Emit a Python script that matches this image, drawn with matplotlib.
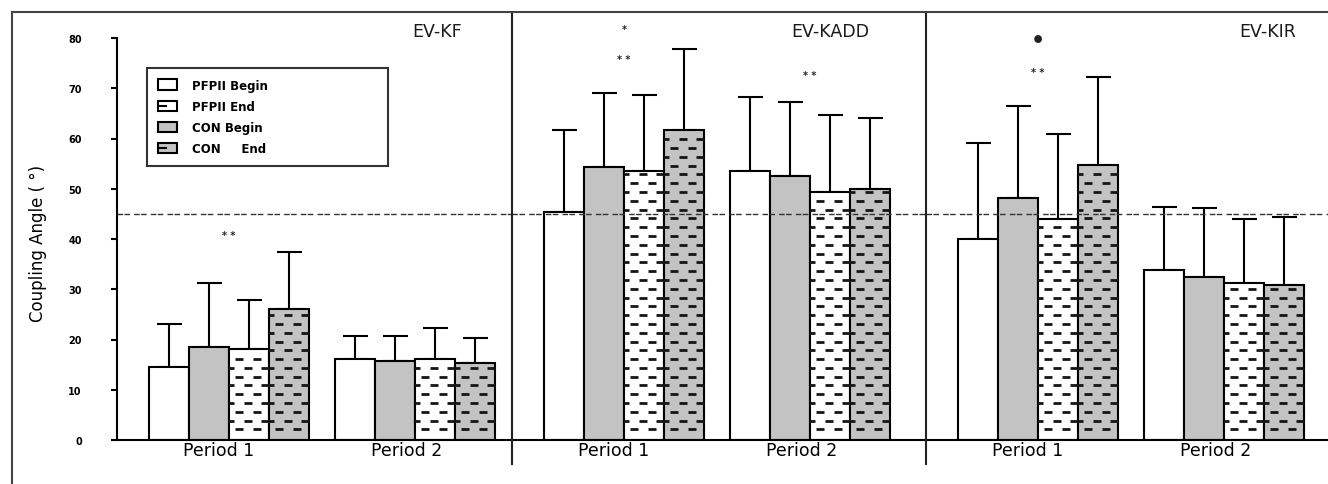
import numpy as np
import matplotlib
matplotlib.use("Agg")
import matplotlib.pyplot as plt
from matplotlib.patches import Rectangle, Patch
from matplotlib.lines import Line2D
from matplotlib.legend_handler import HandlerPatch

plt.rcParams['font.family'] = ['DejaVu Sans']

# ---------------- data ----------------
panels = ["EV-KF", "EV-KADD", "EV-KIR"]
periods = ["Period 1", "Period 2"]
bar_series = ["PFPII Begin", "CON Begin", "PFPII End", "CON End"]
legend_labels = ["PFPII Begin", "PFPII End", "CON Begin", "CON     End"]
y_ticks = [0, 10, 20, 30, 40, 50, 60, 70, 80]
reference_line = 45

# means per series: [Period 1, Period 2]
kf_pfp_begin = [14.5, 16.1]
kf_con_begin = [18.5, 15.7]
kf_pfp_end = [18.1, 16.1]
kf_con_end = [26.1, 15.3]
kf_pfp_begin_sd = [8.6, 4.6]
kf_con_begin_sd = [12.7, 5.0]
kf_pfp_end_sd = [9.8, 6.1]
kf_con_end_sd = [11.3, 5.0]

kadd_pfp_begin = [45.4, 53.5]
kadd_con_begin = [54.3, 52.6]
kadd_pfp_end = [53.5, 49.4]
kadd_con_end = [61.7, 50.0]
kadd_pfp_begin_sd = [16.3, 14.8]
kadd_con_begin_sd = [14.8, 14.7]
kadd_pfp_end_sd = [15.2, 15.3]
kadd_con_end_sd = [16.1, 14.1]

kir_pfp_begin = [40.0, 33.8]
kir_con_begin = [48.2, 32.5]
kir_pfp_end = [44.0, 31.2]
kir_con_end = [54.8, 30.8]
kir_pfp_begin_sd = [19.1, 12.6]
kir_con_begin_sd = [18.3, 13.6]
kir_pfp_end_sd = [16.8, 12.8]
kir_con_end_sd = [17.4, 13.6]

# significance marks: (panel, period index, y value, text)
marks_panel = [0, 1, 1, 1, 2, 2]
marks_period = [0, 0, 0, 1, 0, 0]
marks_y = [40.8, 81.8, 75.8, 72.6, 79.6, 73.2]
marks_text = ["* *", "*", "* *", "* *", "\u2022", "* *"]

means = [
    [kf_pfp_begin, kf_con_begin, kf_pfp_end, kf_con_end],
    [kadd_pfp_begin, kadd_con_begin, kadd_pfp_end, kadd_con_end],
    [kir_pfp_begin, kir_con_begin, kir_pfp_end, kir_con_end],
]
sds = [
    [kf_pfp_begin_sd, kf_con_begin_sd, kf_pfp_end_sd, kf_con_end_sd],
    [kadd_pfp_begin_sd, kadd_con_begin_sd, kadd_pfp_end_sd, kadd_con_end_sd],
    [kir_pfp_begin_sd, kir_con_begin_sd, kir_pfp_end_sd, kir_con_end_sd],
]

# ---------------- styling ----------------
W, H = 1328, 485
GRAY = "#c3c3c3"
face = ["white", GRAY, "white", GRAY]
hatched = [False, False, True, True]
LW = 1.5


def fx(px):
    return px / W


def fy(py):
    return 1 - py / H


fig = plt.figure(figsize=(W / 100, H / 100), dpi=100)

# panel extents in pixels (left, right)
panel_px = [(117, 512), (512, 926), (926, 1328)]
title_px = [437, 830, 1268]
y_top_px, y_bot_px = 39, 441
group_start = [0.8, 5.45]
label_pos = [2.55, 7.25]


def add_dashes(ax, left, width, height, clip):
    ys = np.arange(2.1, height - 0.4, 1.75)
    for i, yv in enumerate(ys):
        off = 0.25 if i % 2 == 0 else 0.03
        xs = np.arange(left + off, left + width + 0.2, 0.44)
        ln, = ax.plot(xs, np.full_like(xs, yv), ls='none', marker='_', ms=6,
                      mew=2.0, color='#151515', zorder=3)
        ln.set_clip_path(clip)


axes = []
for p, (l, r) in enumerate(panel_px):
    ax = fig.add_axes([fx(l), fy(y_bot_px), (r - l) / W, (y_bot_px - y_top_px) / H])
    axes.append(ax)
    ax.set_xlim(0, (r - l) / 40.0)
    ax.set_ylim(0, 80)
    ax.patch.set_alpha(0)
    for s in ['top', 'right']:
        ax.spines[s].set_visible(False)
    ax.spines['bottom'].set_linewidth(LW)
    if p == 0:
        ax.spines['left'].set_linewidth(LW)
        ax.set_yticks(y_ticks)
        ax.set_yticklabels([str(t) for t in y_ticks], fontsize=7, fontweight='bold')
        ax.tick_params(axis='y', direction='out', length=4.3, width=LW, pad=21)
    else:
        ax.spines['left'].set_visible(False)
        ax.set_yticks([])
    ax.set_xticks(label_pos)
    ax.set_xticklabels(periods, fontsize=12.5)
    ax.tick_params(axis='x', length=0, pad=1)

    for g in range(2):
        for s in range(4):
            x0 = group_start[g] + s
            m = means[p][s][g]
            sd = sds[p][s][g]
            bars = ax.bar(x0, m, width=1.0, align='edge', color=face[s],
                          edgecolor='black', linewidth=LW, zorder=2)
            ax.errorbar(x0 + 0.5, m, yerr=[[0], [sd]], fmt='none', ecolor='black',
                        elinewidth=LW, capsize=9, capthick=LW, zorder=1)
            if hatched[s]:
                add_dashes(ax, x0, 1.0, m, bars.patches[0])

    ax.axhline(reference_line, color='#333333', lw=1.0, dashes=(4, 1, 4, 3), zorder=4)

    fig.text(fx(title_px[p]), fy(32), panels[p], ha='center', va='center',
             fontsize=12.5, color='#1a1a1a')

for k in range(len(marks_text)):
    ax = axes[marks_panel[k]]
    xc = group_start[marks_period[k]] + 2.0
    bold = marks_text[k] == "\u2022"
    ax.text(xc, marks_y[k], marks_text[k], ha='center', va='center',
            fontsize=16 if bold else 7, fontweight='bold', clip_on=False, color='#222222')

# y label
fig.text(fx(38), fy(243), "Coupling Angle ( \u00b0)", rotation=90, ha='center', va='center',
         fontsize=12)

# separators and frame
for xs in [512, 926]:
    fig.add_artist(Line2D([fx(xs), fx(xs)], [fy(13), fy(465)], color='#222222', lw=LW))
fig.add_artist(Line2D([fx(12), 1], [fy(13), fy(13)], color='#444444', lw=LW))
fig.add_artist(Line2D([fx(12), fx(12)], [fy(13), 0], color='#444444', lw=LW))


# legend
class HatchHandler(HandlerPatch):
    def create_artists(self, legend, orig_handle, xdescent, ydescent, width, height,
                       fontsize, trans):
        rect = Rectangle((-xdescent, -ydescent), width, height,
                         facecolor=orig_handle.get_facecolor(), edgecolor='black',
                         lw=LW, transform=trans)
        arts = [rect]
        if orig_handle.get_hatch():
            ln = Line2D([-xdescent + 0.15 * width, -xdescent + 0.45 * width],
                        [-ydescent + 0.5 * height] * 2, color='black', lw=LW, transform=trans)
            arts.append(ln)
        return arts


leg_face = ["white", "white", GRAY, GRAY]
leg_hatch = [None, '-', None, '-']
handles = [Patch(facecolor=leg_face[i], edgecolor='black', hatch=leg_hatch[i])
           for i in range(4)]
leg = fig.legend(handles, legend_labels, loc='upper left',
                 bbox_to_anchor=(fx(147), fy(69), fx(388) - fx(147), 0.0), mode='expand',
                 borderaxespad=0, fancybox=False, shadow=False, frameon=True,
                 prop={'size': 8.5, 'weight': 'bold'}, borderpad=0.9, labelspacing=0.7,
                 handlelength=1.6, handleheight=0.95, handletextpad=1.35,
                 handler_map={Patch: HatchHandler()})
leg.get_frame().set_edgecolor('black')
leg.get_frame().set_linewidth(LW)

fig.savefig("out.png", dpi=100)
